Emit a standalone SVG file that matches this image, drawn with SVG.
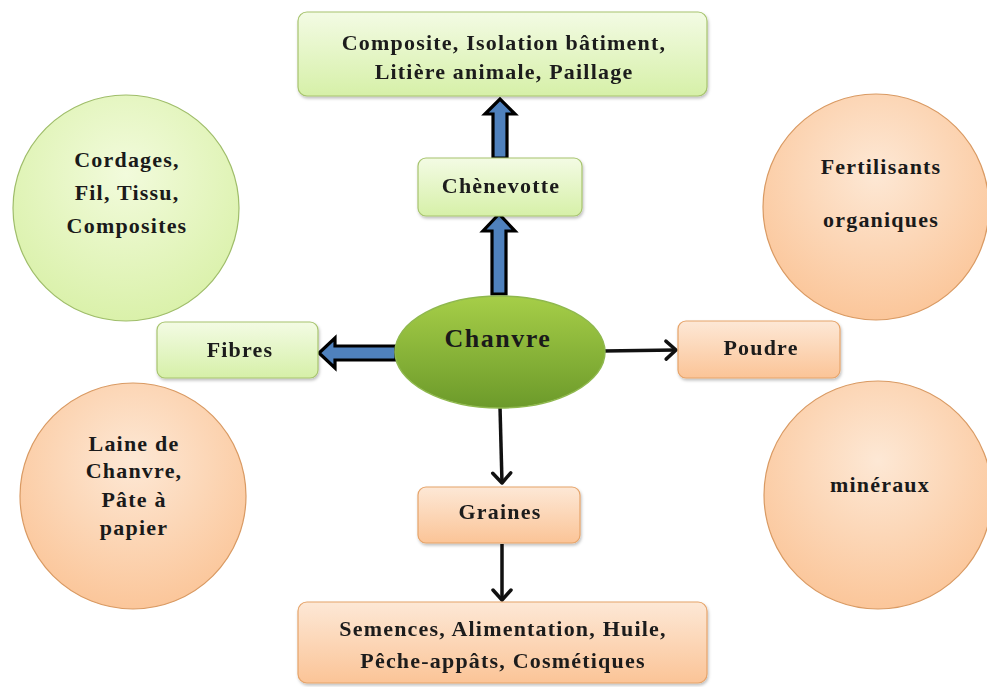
<svg xmlns="http://www.w3.org/2000/svg" width="987" height="687" viewBox="0 0 987 687">
<defs>
<linearGradient id="gG" x1="0" y1="0" x2="0" y2="1"><stop offset="0" stop-color="#f3fbe4"/><stop offset="1" stop-color="#d6f0a8"/></linearGradient>
<linearGradient id="gO" x1="0" y1="0" x2="0" y2="1"><stop offset="0" stop-color="#fde8d6"/><stop offset="1" stop-color="#fbc497"/></linearGradient>
<radialGradient id="gC" cx="0.5" cy="0.35" r="0.65"><stop offset="0" stop-color="#f2fbdc"/><stop offset="1" stop-color="#daf1aa"/></radialGradient>
<radialGradient id="gCO" cx="0.5" cy="0.35" r="0.65"><stop offset="0" stop-color="#fde8d5"/><stop offset="1" stop-color="#fbc69a"/></radialGradient>
<linearGradient id="gE" x1="0" y1="0" x2="0" y2="1"><stop offset="0" stop-color="#a6ce48"/><stop offset="1" stop-color="#6c9a2a"/></linearGradient>
<filter id="sh" x="-10%" y="-10%" width="130%" height="140%"><feDropShadow dx="1" dy="2" stdDeviation="1.5" flood-color="#000" flood-opacity="0.25"/></filter>
<marker id="ah" viewBox="0 0 12 20" refX="11" refY="10" markerWidth="12" markerHeight="20" markerUnits="userSpaceOnUse" orient="auto" overflow="visible">
<path d="M1,1 L11,10 L1,19" fill="none" stroke="#111" stroke-width="3.5" stroke-linecap="round" stroke-linejoin="round"/>
</marker>
<style>
.t{font-family:"Liberation Serif","Times New Roman",serif;font-weight:bold;font-size:22px;letter-spacing:1.2px;fill:#1a1a1a;text-anchor:middle}
.bg{fill:url(#gG);stroke:#a7c46e;stroke-width:1.2}
.bo{fill:url(#gO);stroke:#e6a46a;stroke-width:1.2}
.cg{fill:url(#gC);stroke:#9fbd6a;stroke-width:1.2}
.co{fill:url(#gCO);stroke:#d99a63;stroke-width:1.2}
.ba{fill:#4f81bd;stroke:#000;stroke-width:3.2;stroke-linejoin:miter}
.ln{fill:none;stroke:#111;stroke-width:3.5}
</style>
</defs>
<rect width="987" height="687" fill="#fff"/>

<g id="connectors">
<path class="ba" d="M493,158 L493,114 L485,114 L500,99 L515,114 L507,114 L507,158 Z"/>
<path class="ba" d="M492,294 L492,231 L483,231 L499,214 L515,231 L506,231 L506,294 Z"/>
<path class="ba" d="M396,346 L335,346 L335,338 L319,353 L335,368 L335,360 L396,360 Z"/>
<line class="ln" x1="603" y1="351" x2="676" y2="350" marker-end="url(#ah)"/>
<line class="ln" x1="500" y1="407" x2="502" y2="483" marker-end="url(#ah)"/>
<line class="ln" x1="502" y1="544" x2="502" y2="600" marker-end="url(#ah)"/>
</g>

<g id="n-top" filter="url(#sh)">
<rect class="bg" x="298" y="12" width="409" height="84" rx="9"/>
<text class="t" x="504" y="50">Composite, Isolation bâtiment,</text>
<text class="t" x="504" y="79">Litière animale, Paillage</text>
</g>

<g id="n-chenevotte" filter="url(#sh)">
<rect class="bg" x="418" y="158" width="164" height="58" rx="8"/>
<text class="t" x="501" y="193">Chènevotte</text>
</g>

<g id="n-chanvre">
<ellipse cx="500" cy="352" rx="105" ry="56" fill="url(#gE)" stroke="#8fb84e" stroke-width="1.5"/>
<text class="t" x="498" y="347" style="font-size:26px;letter-spacing:1.5px">Chanvre</text>
</g>

<g id="n-fibres" filter="url(#sh)">
<rect class="bg" x="157" y="322" width="161" height="56" rx="8"/>
<text class="t" x="240" y="357">Fibres</text>
</g>

<g id="n-poudre" filter="url(#sh)">
<rect class="bo" x="678" y="321" width="162" height="57" rx="8"/>
<text class="t" x="761" y="355">Poudre</text>
</g>

<g id="n-graines" filter="url(#sh)">
<rect class="bo" x="418" y="487" width="162" height="56" rx="8"/>
<text class="t" x="500" y="519">Graines</text>
</g>

<g id="n-bottom" filter="url(#sh)">
<rect class="bo" x="298" y="602" width="409" height="81" rx="9"/>
<text class="t" x="503" y="636">Semences, Alimentation, Huile,</text>
<text class="t" x="503" y="668">Pêche-appâts, Cosmétiques</text>
</g>

<g id="n-cordages">
<circle class="cg" cx="126" cy="208" r="113"/>
<text class="t" x="127" y="167">Cordages,</text>
<text class="t" x="127" y="200">Fil, Tissu,</text>
<text class="t" x="127" y="233">Composites</text>
</g>

<g id="n-laine">
<circle class="co" cx="133" cy="496" r="113"/>
<text class="t" x="134" y="451">Laine de</text>
<text class="t" x="134" y="478">Chanvre,</text>
<text class="t" x="134" y="507">Pâte à</text>
<text class="t" x="134" y="535">papier</text>
</g>

<g id="n-fertilisants">
<circle class="co" cx="876" cy="207" r="113"/>
<text class="t" x="881" y="174">Fertilisants</text>
<text class="t" x="881" y="227">organiques</text>
</g>

<g id="n-mineraux">
<circle class="co" cx="878" cy="495" r="114"/>
<text class="t" x="880" y="492">minéraux</text>
</g>
</svg>
